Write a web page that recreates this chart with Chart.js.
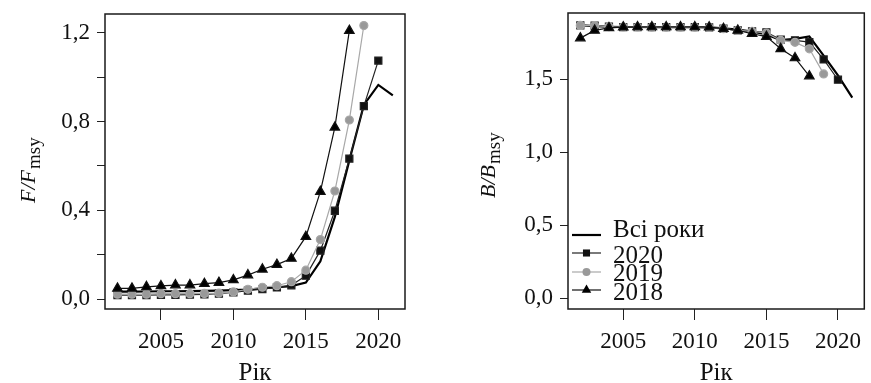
<!DOCTYPE html>
<html>
<head>
<meta charset="utf-8">
<script src="https://cdn.jsdelivr.net/npm/chart.js@4.4.0/dist/chart.umd.min.js"></script>
<style>
  body { margin: 0; background: #fff; }
  canvas { position: absolute; top: 0; }
</style>
</head>
<body>
<canvas id="fChart" style="left:0;width:436px;height:383px" width="436" height="383"></canvas>
<canvas id="bChart" style="left:436px;width:435px;height:383px" width="435" height="383"></canvas>
<script>
const years = [2002, 2003, 2004, 2005, 2006, 2007, 2008, 2009, 2010, 2011,
               2012, 2013, 2014, 2015, 2016, 2017, 2018, 2019, 2020, 2021];

// F/Fmsy
const fAll  = [0.033, 0.033, 0.034, 0.035, 0.035, 0.036, 0.037, 0.038, 0.040, 0.043,
               0.048, 0.053, 0.058, 0.074, 0.17, 0.37, 0.625, 0.875, 0.965, 0.918];
const f2020 = [0.018, 0.018, 0.018, 0.019, 0.019, 0.020, 0.021, 0.024, 0.030, 0.038,
               0.045, 0.052, 0.062, 0.105, 0.218, 0.398, 0.633, 0.870, 1.075];
const f2019 = [0.022, 0.022, 0.022, 0.024, 0.024, 0.024, 0.025, 0.027, 0.032, 0.044,
               0.053, 0.060, 0.078, 0.130, 0.268, 0.487, 0.807, 1.233];
const f2018 = [0.048, 0.048, 0.055, 0.059, 0.063, 0.063, 0.069, 0.074, 0.086, 0.108,
               0.134, 0.155, 0.183, 0.281, 0.484, 0.774, 1.210];

// B/Bmsy
const bAll  = [1.868, 1.862, 1.858, 1.856, 1.856, 1.855, 1.855, 1.855, 1.855, 1.853,
               1.847, 1.838, 1.825, 1.805, 1.766, 1.775, 1.792, 1.660, 1.525, 1.372];
const b2020 = [1.867, 1.865, 1.858, 1.856, 1.856, 1.855, 1.855, 1.855, 1.855, 1.853,
               1.845, 1.833, 1.826, 1.820, 1.770, 1.765, 1.753, 1.634, 1.495];
const b2019 = [1.867, 1.865, 1.858, 1.856, 1.856, 1.855, 1.855, 1.855, 1.855, 1.853,
               1.845, 1.833, 1.826, 1.815, 1.764, 1.751, 1.707, 1.535];
const b2018 = [1.780, 1.833, 1.850, 1.855, 1.856, 1.856, 1.856, 1.856, 1.856, 1.855,
               1.845, 1.833, 1.810, 1.790, 1.707, 1.644, 1.520];

const legendLabels = ["Всі роки", "2020", "2019", "2018"];
const xTitle = "Рік";

const FONT = '"Liberation Serif", "Times New Roman", Times, serif';

const pts = (vals) => vals.map((v, i) => ({ x: years[i], y: v }));

function makeDatasets(all, s20, s19, s18) {
  return [
    { label: legendLabels[3], data: pts(s18), borderColor: "#111", backgroundColor: "#000",
      borderWidth: 1.2, pointStyle: "triangle", pointRadius: 5.5, order: 0 },
    { label: legendLabels[2], data: pts(s19), borderColor: "#a8a8a8", backgroundColor: "#999",
      borderWidth: 1.2, pointStyle: "circle", pointRadius: 4, order: 1 },
    { label: legendLabels[1], data: pts(s20), borderColor: "#222", backgroundColor: "#111",
      borderWidth: 1.2, pointStyle: "rect", pointRadius: 5, order: 2 },
    { label: legendLabels[0], data: pts(all), borderColor: "#000",
      borderWidth: 2.2, pointRadius: 0, order: 3 },
  ];
}

// frame, axis titles (with subscript) and optional legend
const decorPlugin = {
  id: "decor",
  afterDraw(chart, args, opts) {
    const { ctx, chartArea: a } = chart;
    ctx.save();
    ctx.strokeStyle = "#1a1a1a";
    ctx.lineWidth = 1.5;
    ctx.strokeRect(a.left, a.top, a.right - a.left, a.bottom - a.top);

    ctx.fillStyle = "#111";
    ctx.textBaseline = "alphabetic";
    ctx.textAlign = "center";
    ctx.font = "25px " + FONT;
    ctx.fillText(xTitle, (a.left + a.right) / 2, 380);

    // y title, rotated
    ctx.save();
    ctx.translate(opts.yTitleX, opts.yTitleY);
    ctx.rotate(-Math.PI / 2);
    ctx.textAlign = "left";
    ctx.font = "italic 22px " + FONT;
    const main = opts.yMain;
    ctx.fillText(main, 0, 0);
    const w = ctx.measureText(main).width;
    ctx.font = "19px " + FONT;
    ctx.fillText(opts.ySub, w + 1, 5);
    ctx.restore();

    if (opts.legend) {
      const L = opts.legend;
      ctx.textAlign = "left";
      ctx.font = "25px " + FONT;
      legendLabels.forEach((lab, i) => {
        const ds = chart.data.datasets.find((d) => d.label === lab);
        const ly = L.lineY[i];
        ctx.strokeStyle = ds.borderColor;
        ctx.lineWidth = ds.borderWidth;
        ctx.beginPath();
        ctx.moveTo(L.x0, ly);
        ctx.lineTo(L.x1, ly);
        ctx.stroke();
        const cx = (L.x0 + L.x1) / 2;
        ctx.fillStyle = ds.backgroundColor || "#000";
        const r = ds.pointRadius;
        if (ds.pointStyle === "rect" && r) {
          const s = r * Math.SQRT1_2;
          ctx.fillRect(cx - s, ly - s, 2 * s, 2 * s);
        } else if (ds.pointStyle === "circle" && r) {
          ctx.beginPath();
          ctx.arc(cx, ly, r, 0, Math.PI * 2);
          ctx.fill();
        } else if (ds.pointStyle === "triangle" && r) {
          ctx.beginPath();
          ctx.moveTo(cx, ly - r);
          ctx.lineTo(cx + r * 0.866, ly + r / 2);
          ctx.lineTo(cx - r * 0.866, ly + r / 2);
          ctx.closePath();
          ctx.fill();
        }
        ctx.fillStyle = "#111";
        ctx.fillText(lab, L.textX, L.textY[i]);
      });
    }
    ctx.restore();
  },
};

function makeChart(id, datasets, cfg) {
  return new Chart(document.getElementById(id), {
    type: "line",
    data: { datasets },
    options: {
      responsive: false,
      animation: false,
      layout: { padding: { left: 0, top: cfg.top, right: cfg.right, bottom: 0 } },
      elements: { line: { tension: 0 } },
      scales: {
        x: {
          type: "linear",
          min: 2001.14,
          max: 2021.84,
          afterFit(s) {
            s.height = 74;
            s.paddingLeft = 0;
            s.paddingRight = 0;
          },
          border: { display: false },
          grid: { drawOnChartArea: false, tickLength: 11, color: "#222", lineWidth: 1 },
          ticks: {
            stepSize: 5,
            includeBounds: false,
            maxRotation: 0,
            padding: 8,
            color: "#111",
            font: { family: FONT, size: 23 },
            callback: (v) => String(v),
          },
        },
        y: {
          min: cfg.yMin,
          max: cfg.yMax,
          afterFit(s) {
            s.width = cfg.yWidth;
            s.paddingTop = 0;
            s.paddingBottom = 0;
          },
          border: { display: false },
          grid: { drawOnChartArea: false, tickLength: 8, color: "#222", lineWidth: 1 },
          ticks: {
            stepSize: cfg.step,
            includeBounds: false,
            autoSkip: false,
            padding: 7,
            color: "#111",
            font: { family: FONT, size: 23 },
            callback: (v) => {
              const k = v / cfg.labelEvery;
              if (Math.abs(k - Math.round(k)) > 1e-6) return "";
              return v.toFixed(1).replace(".", ",");
            },
          },
        },
      },
      plugins: {
        legend: { display: false },
        tooltip: { enabled: false },
        decor: cfg.decor,
      },
    },
    plugins: [decorPlugin],
  });
}

makeChart("fChart", makeDatasets(fAll, f2020, f2019, f2018), {
  top: 14, right: 31, yWidth: 105,
  yMin: -0.045, yMax: 1.285, step: 0.2, labelEvery: 0.4,
  decor: { yTitleX: 35, yTitleY: 203, yMain: "F/F", ySub: "msy" },
});

makeChart("bChart", makeDatasets(bAll, b2020, b2019, b2018), {
  top: 13, right: 3, yWidth: 132,
  yMin: -0.075, yMax: 1.952, step: 0.5, labelEvery: 0.5,
  decor: {
    yTitleX: 59, yTitleY: 198, yMain: "B/B", ySub: "msy",
    legend: { x0: 136, x1: 165, textX: 177, lineY: [235, 253, 272, 290], textY: [237, 263, 281, 300] },
  },
});
</script>
</body>
</html>
